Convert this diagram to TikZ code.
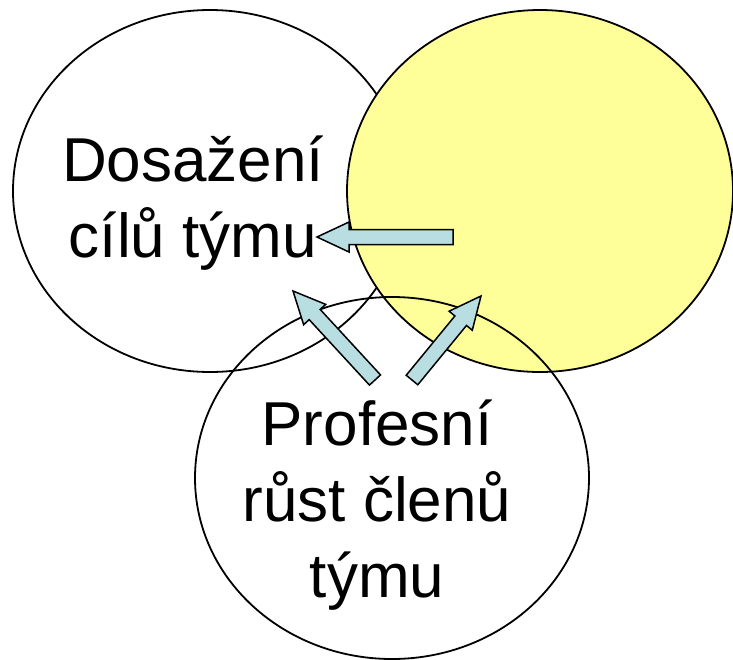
\documentclass[tikz,border=0pt]{standalone}
\usepackage{fontspec}
\setmainfont{Liberation Sans}
\usetikzlibrary{shapes.geometric,calc}

\definecolor{teamyellow}{RGB}{255,255,153}
\definecolor{arrowblue}{RGB}{184,222,226}

% block arrow from #1 (tail) to #2 (tip)
\newcommand{\blockarrow}[2]{%
  \coordinate (ba-h) at ($(#2)!32pt!(#1)$);
  \draw[black,line width=1.5pt,fill=arrowblue,line join=miter]
    ($(#1)!7.5pt!90:(#2)$) -- ($(ba-h)!7.5pt!-90:(#1)$) -- ($(ba-h)!15pt!-90:(#1)$)
    -- (#2) -- ($(ba-h)!15pt!90:(#1)$) -- ($(ba-h)!7.5pt!90:(#1)$)
    -- ($(#1)!7.5pt!-90:(#2)$) -- cycle;
}

\begin{document}
\begin{tikzpicture}[x=1pt,y=-1pt,
  circ/.style={ellipse,draw=black,line width=1.8pt,minimum width=394pt,minimum height=362pt,inner sep=0pt},
  caption/.style={font=\fontsize{62}{76}\selectfont,align=center,anchor=base}]

  \useasboundingbox (0,0) rectangle (733,659);

  % Circles
  \node[circ,fill=white] (goals) at (210,191) {};
  \node[circ,fill=teamyellow,minimum width=386pt] (team) at (540,191) {};
  \node[circ] (growth) at (392,478) {};

  % Texts (anchored on the last line)
  \node[caption] (goalstext) at (193,257) {Dosažení\\cílů týmu};
  \node[caption] (growthtext) at (377,597) {Profesní\\růst členů\\týmu};

  % Arrow ends
  \coordinate (team-out) at (453,237);
  \coordinate (goals-in) at (317,237);
  \coordinate (growth-outl) at (375,380);
  \coordinate (goals-inb) at (293,291);
  \coordinate (growth-outr) at (412,380);
  \coordinate (team-in) at (481,296);

  % Arrows
  \blockarrow{team-out}{goals-in}
  \blockarrow{growth-outl}{goals-inb}
  \blockarrow{growth-outr}{team-in}

\end{tikzpicture}
\end{document}
